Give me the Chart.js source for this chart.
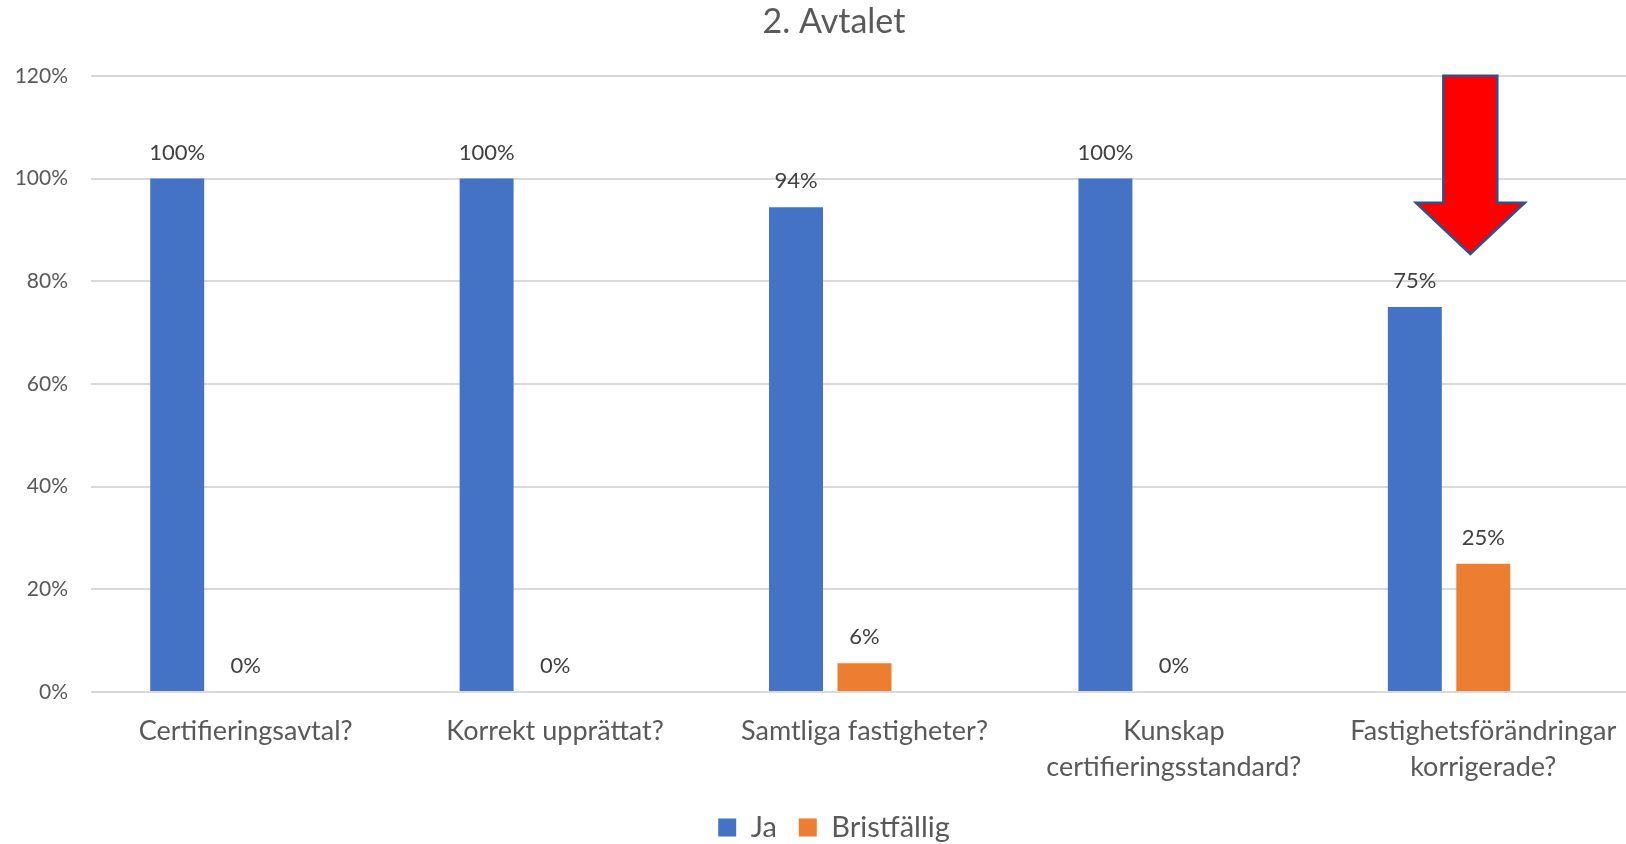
<!DOCTYPE html>
<html>
<head>
<meta charset="utf-8">
<script src="https://cdn.jsdelivr.net/npm/chart.js@4.4.1/dist/chart.umd.min.js"></script>
<style>
  html, body { margin: 0; padding: 0; background: #fff; overflow: hidden; }
  #wrap { width: 1666px; height: 852px; }
</style>
</head>
<body>
<div id="wrap"><canvas id="chart" width="1666" height="852"></canvas></div>
<script>
// ---- data ----
const categories = [
  "Certifieringsavtal?",
  "Korrekt upprättat?",
  "Samtliga fastigheter?",
  ["Kunskap", "certifieringsstandard?"],
  ["Fastighetsförändringar", "korrigerade?"]
];
const jaValues = [100, 100, 94.4, 100, 75];
const bristValues = [0, 0, 5.6, 0, 25];
const emptyValues = [null, null, null, null, null]; // third (empty) series slot
const yTicks = [0, 20, 40, 60, 80, 100, 120];

// arrow marker over the last category (value units / category units)
const arrowCategory = 4;
const arrowShift = -0.042;
const arrowTop = 120, arrowWing = 95.3, arrowTip = 85.3;

const FONT = "Lato, 'Open Sans', sans-serif";
const GREY = "#595959";

// ---- labels above bars ----
const barLabels = {
  id: "barLabels",
  afterDatasetsDraw(chart) {
    const ctx = chart.ctx;
    ctx.save();
    ctx.font = `22px ${FONT}`;
    ctx.fillStyle = "#404040";
    ctx.textAlign = "center";
    ctx.textBaseline = "middle";
    [0, 1].forEach((di) => {
      const meta = chart.getDatasetMeta(di);
      meta.data.forEach((bar, i) => {
        const v = chart.data.datasets[di].data[i];
        ctx.fillText(Math.round(v) + "%", bar.x, bar.y - 26);
      });
    });
    ctx.restore();
  }
};

// ---- red arrow ----
const arrowMark = {
  id: "arrowMark",
  afterDatasetsDraw(chart) {
    const xs = chart.scales.x, ys = chart.scales.y;
    const cw = xs.getPixelForValue(1) - xs.getPixelForValue(0);
    const cx = xs.getPixelForValue(arrowCategory) + arrowShift * cw;
    const shaft = 0.0872 * cw, wing = 0.176 * cw;
    const yTop = ys.getPixelForValue(arrowTop);
    const yWing = ys.getPixelForValue(arrowWing);
    const yTip = ys.getPixelForValue(arrowTip);
    const ctx = chart.ctx;
    ctx.save();
    ctx.beginPath();
    ctx.moveTo(cx - shaft, yTop);
    ctx.lineTo(cx + shaft, yTop);
    ctx.lineTo(cx + shaft, yWing);
    ctx.lineTo(cx + wing, yWing);
    ctx.lineTo(cx, yTip);
    ctx.lineTo(cx - wing, yWing);
    ctx.lineTo(cx - shaft, yWing);
    ctx.closePath();
    ctx.fillStyle = "#FF0000";
    ctx.fill();
    ctx.lineWidth = 2.5;
    ctx.strokeStyle = "#2F528F";
    ctx.lineJoin = "miter";
    ctx.stroke();
    ctx.restore();
  }
};

const ctx = document.getElementById("chart").getContext("2d");
new Chart(ctx, {
  type: "bar",
  data: {
    labels: categories,
    datasets: [
      { label: "Ja", data: jaValues, backgroundColor: "#4472C4",
        categoryPercentage: 0.664, barPercentage: 0.788 },
      { label: "Bristfällig", data: bristValues, backgroundColor: "#ED7D31",
        categoryPercentage: 0.664, barPercentage: 0.788 },
      { label: "", data: emptyValues, backgroundColor: "#A5A5A5",
        categoryPercentage: 0.664, barPercentage: 0.788 }
    ]
  },
  options: {
    responsive: false,
    animation: false,
    layout: { padding: { left: 14, right: 12, top: 0, bottom: 0 } },
    plugins: {
      title: {
        display: true,
        text: "2. Avtalet",
        color: GREY,
        font: { family: FONT, size: 34, weight: "normal" },
        padding: { top: 2, bottom: 33 }
      },
      legend: {
        position: "bottom",
        labels: {
          filter: (item) => item.datasetIndex < 2,
          color: GREY,
          font: { family: FONT, size: 29 },
          boxWidth: 18,
          boxHeight: 18,
          padding: 22
        }
      },
      tooltip: { enabled: false }
    },
    scales: {
      x: {
        grid: { display: false, drawTicks: false },
        border: { display: false },
        afterFit: (axis) => { axis.height = 99; },
        ticks: {
          color: GREY,
          autoSkip: false,
          maxRotation: 0,
          padding: 21,
          font: { family: FONT, size: 27, lineHeight: 1.333 }
        }
      },
      y: {
        min: 0,
        max: 120,
        afterBuildTicks: (axis) => { axis.ticks = yTicks.map((v) => ({ value: v })); },
        afterFit: (axis) => { axis.width = 77; },
        grid: { color: "#D9D9D9", lineWidth: 2, drawTicks: false },
        border: { display: false },
        ticks: {
          color: GREY,
          padding: 23,
          font: { family: FONT, size: 21 },
          callback: (v) => v + "%"
        }
      },
      // empty right-hand margin so the title and legend centre like the original
      yRight: {
        position: "right",
        grid: { display: false, drawTicks: false },
        border: { display: false },
        ticks: { display: false },
        afterFit: (axis) => { axis.width = 16; }
      }
    }
  },
  plugins: [barLabels, arrowMark]
});
</script>
</body>
</html>
